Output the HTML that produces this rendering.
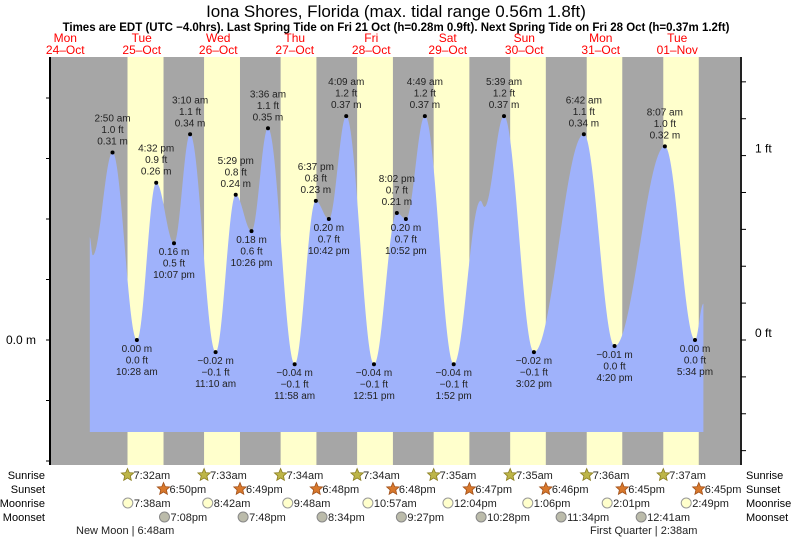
<!DOCTYPE html>
<html><head><meta charset="utf-8"><style>
body{margin:0;background:#fff}
svg text{font-family:"Liberation Sans",sans-serif}
</style></head><body>
<svg id="c" width="793" height="539" viewBox="0 0 793 539" xmlns="http://www.w3.org/2000/svg">
<text x="396" y="17" font-size="17" text-anchor="middle">Iona Shores, Florida (max. tidal range 0.56m 1.8ft)</text>
<text x="396" y="31" font-size="11.5" font-weight="bold" text-anchor="middle">Times are EDT (UTC −4.0hrs). Last Spring Tide on Fri 21 Oct (h=0.28m 0.9ft). Next Spring Tide on Fri 28 Oct (h=0.37m 1.2ft)</text>
<g id="bg"></g><g id="tide"></g><g id="axes"></g><g id="labels"></g><g id="bottom"></g>
</svg>
<script>
const dayNames=["Mon","Tue","Wed","Thu","Fri","Sat","Sun","Mon","Tue"];
const dayDates=["24\u2013Oct","25\u2013Oct","26\u2013Oct","27\u2013Oct","28\u2013Oct","29\u2013Oct","30\u2013Oct","31\u2013Oct","01\u2013Nov"];
// tide extrema: day offset from Oct 24, hour, height m, labelled?
const tideDay=[0,0,1,1,1,1,2,2,2,2,3,3,3,3,4,4,4,4,5,5,5,5,6,6,7,7,8,8,8];
const tideHour=[19.7,20.6,2.833,10.467,16.533,22.117,3.167,11.167,17.483,22.433,3.6,11.967,18.617,22.7,4.15,12.85,20.033,22.867,4.817,13.867,22.3,23.5,5.65,15.033,6.7,16.333,8.117,17.567,20.2];
const tideH=[0.17,0.14,0.31,0.00,0.26,0.16,0.34,-0.02,0.24,0.18,0.35,-0.04,0.23,0.20,0.37,-0.04,0.21,0.20,0.37,-0.04,0.23,0.22,0.37,-0.02,0.34,-0.01,0.32,0.00,0.06];
const tideLabel=["","","2:50 am","10:28 am","4:32 pm","10:07 pm","3:10 am","11:10 am","5:29 pm","10:26 pm","3:36 am","11:58 am","6:37 pm","10:42 pm","4:09 am","12:51 pm","8:02 pm","10:52 pm","4:49 am","1:52 pm","","","5:39 am","3:02 pm","6:42 am","4:20 pm","8:07 am","5:34 pm",""];
const sunrise=["7:32am","7:33am","7:34am","7:34am","7:35am","7:35am","7:36am","7:37am"];
const sunriseH=[7.533,7.55,7.567,7.567,7.583,7.583,7.6,7.617];
const sunset=["6:50pm","6:49pm","6:48pm","6:48pm","6:47pm","6:46pm","6:45pm","6:45pm"];
const sunsetH=[18.833,18.817,18.8,18.8,18.783,18.767,18.75,18.75];
const moonrise=["7:38am","8:42am","9:48am","10:57am","12:04pm","1:06pm","2:01pm","2:49pm"];
const moonriseH=[7.633,8.7,9.8,10.95,12.067,13.1,14.017,14.817];
const moonset=["7:08pm","7:48pm","8:34pm","9:27pm","10:28pm","11:34pm","12:41am"];
const moonsetH=[19.133,19.8,20.567,21.45,22.467,23.567,24.683];
const yTicksM=[-0.2,-0.1,0,0.1,0.2,0.3,0.4,0.5];
const yTicksFt=[-0.6,-0.4,-0.2,0,0.2,0.4,0.6,0.8,1.0,1.2,1.4,1.6];

const NS="http://www.w3.org/2000/svg";
const L=50,R=741,T=57,B=465,FILLB=432;
const x=(d,h)=>27+ (d+h/24)*76.5;
const y=m=>340-m*605;
function el(tag,attrs,parent,txt){const e=document.createElementNS(NS,tag);for(const k in attrs)e.setAttribute(k,attrs[k]);if(txt!==undefined)e.textContent=txt;parent.appendChild(e);return e;}
const bg=document.getElementById('bg'),tide=document.getElementById('tide'),axes=document.getElementById('axes'),lab=document.getElementById('labels'),bot=document.getElementById('bottom');
let r=el('rect',{x:L,y:T,width:R-L,height:B-T,fill:'#a6a6a6'},bg);


for(let d=1;d<=8;d++){
 const x0=x(d,sunriseH[d-1]),x1=x(d,sunsetH[d-1]);
 const rr=el('rect',{x:x0,y:T,width:x1-x0,height:B-T,fill:'#ffffcc'},bg);
 
 
}
for(let d=0;d<9;d++){
 const cx=x(d,12);
 const t1=el('text',{x:cx,y:42,'font-size':12,fill:'#ff0000','text-anchor':'middle'},lab,dayNames[d]);
 
 
 const t2=el('text',{x:cx,y:54,'font-size':12,fill:'#ff0000','text-anchor':'middle'},lab,dayDates[d]);
 
 
}
// tide curve
const px=tideDay.map((d,i)=>x(d,tideHour[i]));
let pts=[[px[0],FILLB]];
for(let i=0;i<px.length-1;i++){
 const a=px[i],b=px[i+1];
 for(let xx=a;xx<b;xx+=0.5){const f=(1-Math.cos(Math.PI*(xx-a)/(b-a)))/2;pts.push([xx,y(tideH[i]+(tideH[i+1]-tideH[i])*f)]);}
}
pts.push([px[px.length-1],y(tideH[tideH.length-1])]);
pts.push([px[px.length-1],FILLB]);
const poly=el('polygon',{points:pts.map(p=>p[0].toFixed(1)+','+p[1].toFixed(1)).join(' '),fill:'#9fb2fb'},tide);


// labels
tideH.forEach((h,i)=>{
 if(!tideLabel[i])return;
 const cx=px[i],cy=y(h);
 const dot=el('circle',{cx:cx,cy:cy,r:2,fill:'#000'},lab);
 
 
 const ft=(h*3.28084).toFixed(1).replace('-0.0','0.0').replace('-','\u2212')+' ft';
 const m=h.toFixed(2).replace('-','\u2212')+' m';
 const high=(i>0&&h>tideH[i-1]);
 const lines=high?[tideLabel[i],ft,m]:[m,ft,tideLabel[i]];
 const y0=high?cy-31:cy+12;
 const g=el('g',{},lab);
 
 
 lines.forEach((s,k)=>el('text',{x:cx,y:y0+k*11.5,'font-size':10,'text-anchor':'middle',fill:'#222'},g,s));
});
// axes
const la=el('line',{x1:L,y1:T,x2:L,y2:B,stroke:'#000','stroke-width':2},axes);


yTicksM.forEach(v=>{const yy=y(v);if(yy<T||yy>B)return;el('line',{x1:L-4,y1:yy,x2:L,y2:yy,stroke:'#000'},axes);});
const zl=el('text',{x:36,y:344,'font-size':12,'text-anchor':'end'},axes,'0.0 m');


const ra=el('line',{x1:R,y1:T,x2:R,y2:B,stroke:'#222','stroke-width':2},axes);


yTicksFt.forEach(v=>{const yy=y(v*0.3048);if(yy<T||yy>B)return;el('line',{x1:R,y1:yy,x2:R+5,y2:yy,stroke:'#000'},axes);});
[['0 ft',0],['1 ft',1]].forEach(([s,v])=>{const t=el('text',{x:755,y:y(v*0.3048)-3,'font-size':12},axes,s);
 
 });
// bottom rows
const rows=[['Sunrise',479],['Sunset',493],['Moonrise',507],['Moonset',521]];
rows.forEach(([n,yy])=>{
 const a=el('text',{x:45,y:yy,'font-size':11,'text-anchor':'end'},bot,n);
 
 
 const b=el('text',{x:746,y:yy,'font-size':11},bot,n);
 
 
});
function star(cx,cy,fill,stroke){let p=[];for(let k=0;k<10;k++){const rr=k%2?3:6.5,a=-Math.PI/2+k*Math.PI/5;p.push((cx+rr*Math.cos(a)).toFixed(1)+','+(cy+rr*Math.sin(a)).toFixed(1));}
 return el('polygon',{points:p.join(' '),fill:fill,stroke:stroke,'stroke-width':0.8},bot);}
for(let d=1;d<=8;d++){
 let cx=x(d,sunriseH[d-1]);
 let s=star(cx,475,'#bdb548','#8a7d20');
 
 
 let t=el('text',{x:cx+6,y:479,'font-size':11,fill:'#222'},bot,sunrise[d-1]);
 
 
 cx=x(d,sunsetH[d-1]);
 s=star(cx,489,'#d8782c','#a0501a');
 
 
 t=el('text',{x:cx+6,y:493,'font-size':11,fill:'#222'},bot,sunset[d-1]);
 
 
 cx=x(d,moonriseH[d-1]);
 let c=el('circle',{cx:cx,cy:503,r:5,fill:'#ffffcc',stroke:'#999'},bot);
 
 
 t=el('text',{x:cx+6,y:507,'font-size':11,fill:'#222'},bot,moonrise[d-1]);
 
 
 if(d<=moonset.length){
  cx=x(d,moonsetH[d-1]);
  c=el('circle',{cx:cx,cy:517,r:5,fill:'#bbbbaa',stroke:'#888'},bot);
  
  
  t=el('text',{x:cx+6,y:521,'font-size':11,fill:'#222'},bot,moonset[d-1]);
  
  
 }
}
let ph=el('text',{x:76,y:534,'font-size':11,fill:'#222'},bot,'New Moon | 6:48am');


ph=el('text',{x:590,y:534,'font-size':11,fill:'#222'},bot,'First Quarter | 2:38am');


</script>
</body></html>
